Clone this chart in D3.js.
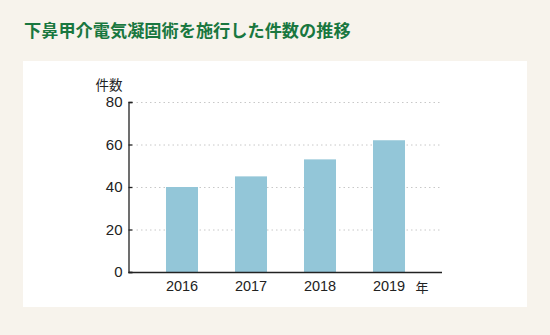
<!DOCTYPE html>
<html>
<head>
<meta charset="utf-8">
<script src="https://cdn.jsdelivr.net/npm/d3@7"></script>
<style>
  html, body { margin: 0; padding: 0; background: #f7f3ec; }
  svg { display: block; }
</style>
</head>
<body>
<svg id="chart" width="550" height="335"></svg>
<script>
// Procedure counts per year
const years = ["2016", "2017", "2018", "2019"];
const counts = [40, 45, 53, 62];
const yTicks = [0, 20, 40, 60, 80];

const svg = d3.select("#chart");
const jp = "'Noto Sans CJK JP', 'Noto Sans', sans-serif";
const num = "'Liberation Sans', Arial, sans-serif";

svg.append("rect").attr("width", 550).attr("height", 335).attr("fill", "#f7f3ec");

svg.append("text")
  .attr("x", 24).attr("y", 36.5)
  .attr("font-family", jp).attr("font-weight", "bold").attr("font-size", 17.2)
  .attr("fill", "#19773f")
  .text("下鼻甲介電気凝固術を施行した件数の推移");

svg.append("rect")
  .attr("x", 23).attr("y", 61).attr("width", 504).attr("height", 246)
  .attr("fill", "#ffffff");

const x0 = 128.5, x1 = 442, yTop = 102, yBot = 272;

const y = d3.scaleLinear().domain([0, 80]).range([yBot, yTop]);
const x = d3.scaleBand().domain(years)
  .range([147.5, 423.5]).paddingInner(0.536).paddingOuter(0.268);

// dotted grid
svg.append("g").selectAll("line")
  .data(yTicks.filter(d => d > 0))
  .join("line")
  .attr("x1", x0 + 8).attr("x2", x1)
  .attr("y1", d => y(d) + 0.5).attr("y2", d => y(d) + 0.5)
  .attr("stroke", "#c8c8c8").attr("stroke-width", 1)
  .attr("stroke-dasharray", "1.5,3");

// bars
svg.append("g").selectAll("rect")
  .data(years.map((yr, i) => ({ yr, v: counts[i] })))
  .join("rect")
  .attr("x", d => x(d.yr)).attr("width", x.bandwidth())
  .attr("y", d => y(d.v)).attr("height", d => yBot - y(d.v))
  .attr("fill", "#93c6d8");

// y axis with inward ticks
const yAxis = svg.append("g")
  .attr("transform", `translate(${x0},0)`)
  .call(d3.axisLeft(y).tickValues(yTicks).tickSize(-4).tickPadding(6));
yAxis.select(".domain").attr("stroke", "#222").attr("stroke-width", 1.3);
yAxis.selectAll(".tick line").attr("stroke", "#222").attr("stroke-width", 1.3);
yAxis.selectAll(".tick text")
  .attr("font-family", num).attr("font-size", 15).attr("fill", "#222");

// x axis baseline
svg.append("line")
  .attr("x1", x0).attr("x2", x1)
  .attr("y1", yBot + 0.5).attr("y2", yBot + 0.5)
  .attr("stroke", "#222").attr("stroke-width", 1.5);

const xAxis = svg.append("g")
  .attr("transform", `translate(0,${yBot})`)
  .call(d3.axisBottom(x).tickSize(0).tickPadding(9));
xAxis.select(".domain").remove();
xAxis.selectAll(".tick text")
  .attr("font-family", num).attr("font-size", 14.5).attr("fill", "#222");

svg.append("text")
  .attr("x", 422).attr("y", 292)
  .attr("text-anchor", "middle")
  .attr("font-family", jp).attr("font-size", 13).attr("fill", "#222")
  .text("年");

svg.append("text")
  .attr("x", 109).attr("y", 89.5)
  .attr("text-anchor", "middle")
  .attr("font-family", jp).attr("font-size", 13.5).attr("fill", "#222")
  .text("件数");
</script>
</body>
</html>
